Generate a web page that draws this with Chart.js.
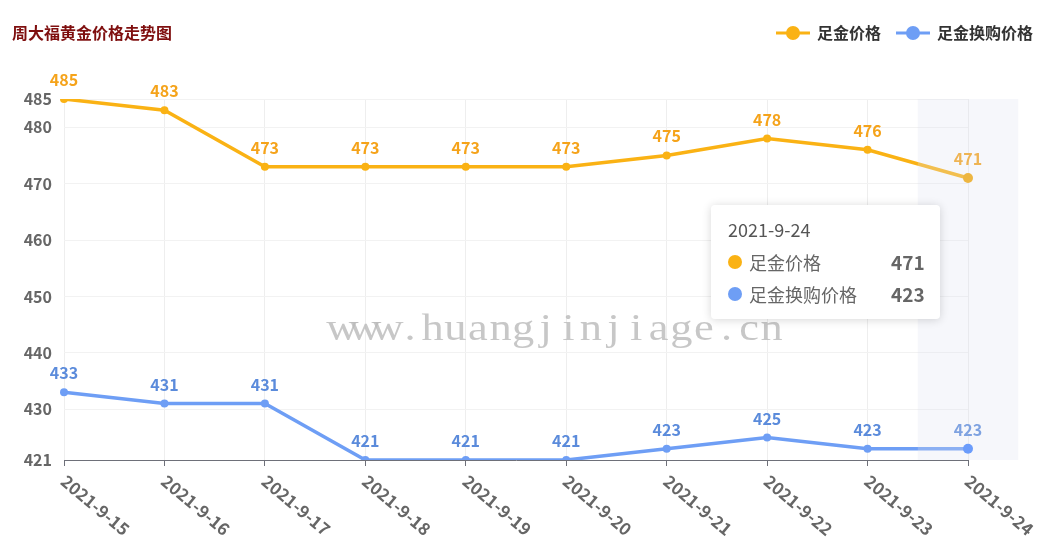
<!DOCTYPE html>
<html>
<head>
<meta charset="utf-8">
<script src="https://cdn.jsdelivr.net/npm/chart.js@4.4.0/dist/chart.umd.min.js"></script>
<style>
  html,body{margin:0;padding:0;background:#fff;}
  #wrap{position:relative;width:1049px;height:558px;overflow:hidden;}
  #tip{position:absolute;display:none;background:#fff;border-radius:4px;box-shadow:0 1px 10px rgba(0,0,0,.16);
       padding:11px 15px 9px 17px;font-family:"Noto Sans CJK SC","Noto Sans",sans-serif;color:#666;white-space:nowrap;}
  #tip .t{font-size:18px;line-height:26px;margin-bottom:4px;color:#555;}
  #tip .r{display:flex;align-items:center;font-size:18px;line-height:32px;}
  #tip .d{width:14px;height:14px;border-radius:50%;display:inline-block;margin-right:7px;}
  #tip .v{margin-left:auto;padding-left:34px;font-weight:bold;font-size:19px;}
</style>
</head>
<body>
<div id="wrap">
  <canvas id="c" width="1049" height="558"></canvas>
  <div id="tip"></div>
</div>
<script>
const FONT = '"Noto Sans CJK SC","Noto Sans",sans-serif';
const TITLE = '周大福黄金价格走势图';
const WATERMARK = 'www.huangjinjiage.cn';

const dates = ['2021-9-15','2021-9-16','2021-9-17','2021-9-18','2021-9-19','2021-9-20','2021-9-21','2021-9-22','2021-9-23','2021-9-24'];
const goldPrice = [485,483,473,473,473,473,475,478,476,471];
const exchangePrice = [433,431,431,421,421,421,423,425,423,423];
const yTicks = [421,430,440,450,460,470,480,485];
const seriesNames = ['足金价格','足金换购价格'];
const lineColors = ['#FAB214','#6E9EF5'];
const labelColors = ['#F5A31A','#5B8BDB'];
const activeIdx = 9;

const tip = document.getElementById('tip');

function externalTip(ctx){
  const {chart, tooltip} = ctx;
  if(tooltip.opacity === 0 || !tooltip.dataPoints || !tooltip.dataPoints.length){ tip.style.display='none'; return; }
  const i = tooltip.dataPoints[0].dataIndex;
  let h = `<div class="t">${dates[i]}</div>`;
  tooltip.dataPoints.forEach(p=>{
    h += `<div class="r"><span class="d" style="background:${lineColors[p.datasetIndex]}"></span>${seriesNames[p.datasetIndex]}<span class="v">${p.raw}</span></div>`;
  });
  tip.innerHTML = h;
  tip.style.display = 'block';
  tip.style.left = (tooltip.caretX - 28 - tip.offsetWidth) + 'px';
  tip.style.top = (chart.chartArea.top + 106) + 'px';
}

const decor = {
  id:'decor',
  beforeDatasetsDraw(chart){
    const c = chart.ctx;
    // watermark, serif glyphs stretched into mono cells
    c.save();
    c.fillStyle = 'rgba(185,185,185,0.8)';
    c.font = '37px "Liberation Serif","DejaVu Serif",serif';
    c.textAlign = 'center'; c.textBaseline = 'middle';
    const cell = 22.6, x0 = 557 - cell*WATERMARK.length/2;
    for(let k=0;k<WATERMARK.length;k++){
      c.save();
      c.translate(x0 + cell*(k+0.5), 330);
      c.scale(1.2, 1);
      c.fillText(WATERMARK[k], 0, 0);
      c.restore();
    }
    c.restore();
  },
  afterDatasetsDraw(chart){
    const c = chart.ctx, a = chart.chartArea;
    c.save();
    c.font = 'bold 16px ' + FONT;
    c.textAlign = 'center'; c.textBaseline = 'bottom';
    chart.data.datasets.forEach((ds,di)=>{
      c.fillStyle = labelColors[di];
      chart.getDatasetMeta(di).data.forEach((pt,i)=>{
        c.fillText(ds.data[i], pt.x, pt.y - 11);
      });
    });
    // hover shadow band
    const act = chart.tooltip.getActiveElements();
    if(act.length){
      const xs = chart.scales.x;
      const px = xs.getPixelForValue(act[0].index);
      const w = xs.getPixelForValue(1) - xs.getPixelForValue(0);
      c.fillStyle = 'rgba(222,226,242,0.27)';
      c.fillRect(px - w/2, a.top, w, a.bottom - a.top);
    }
    c.restore();
  },
  afterDraw(chart){
    const c = chart.ctx, a = chart.chartArea, xs = chart.scales.x;
    c.save();
    // x labels rotated clockwise, starting at the tick
    c.font = 'bold 17px ' + FONT;
    c.fillStyle = '#666';
    c.textAlign = 'left'; c.textBaseline = 'top';
    dates.forEach((d,i)=>{
      const x = xs.getPixelForValue(i);
      c.save();
      c.translate(x + 5, a.bottom + 12);
      c.rotate(40*Math.PI/180);
      c.fillText(d, 0, 0);
      c.restore();
    });
    // title
    c.font = 'bold 16px ' + FONT;
    c.fillStyle = '#7F0F0F';
    c.textAlign = 'left'; c.textBaseline = 'middle';
    c.fillText(TITLE, 12, 33);
    // legend, right aligned
    c.font = 'bold 16px ' + FONT;
    let right = 1033;
    for(let di=seriesNames.length-1; di>=0; di--){
      const tw = c.measureText(seriesNames[di]).width;
      const tx = right - tw;
      c.fillStyle = '#333';
      c.fillText(seriesNames[di], tx, 33);
      const ix = tx - 41;
      c.strokeStyle = lineColors[di]; c.lineWidth = 3;
      c.beginPath(); c.moveTo(ix, 33); c.lineTo(ix + 34, 33); c.stroke();
      c.fillStyle = lineColors[di];
      c.beginPath(); c.arc(ix + 17, 33, 7, 0, Math.PI*2); c.fill();
      right = ix - 15;
    }
    c.restore();
  }
};

const chart = new Chart(document.getElementById('c'), {
  type:'line',
  data:{
    labels: dates,
    datasets:[
      {label:seriesNames[0], data:goldPrice, borderColor:lineColors[0], backgroundColor:lineColors[0], borderWidth:3.5,
       pointRadius:4, pointHoverRadius:5, pointBorderWidth:0, pointHoverBorderWidth:0, tension:0},
      {label:seriesNames[1], data:exchangePrice, borderColor:lineColors[1], backgroundColor:lineColors[1], borderWidth:3.5,
       pointRadius:4, pointHoverRadius:5, pointBorderWidth:0, pointHoverBorderWidth:0, tension:0}
    ]
  },
  options:{
    responsive:false, animation:false,
    layout:{padding:{top:99, right:81, left:0, bottom:0}},
    interaction:{mode:'index', intersect:false},
    events:[],
    plugins:{
      legend:{display:false},
      title:{display:false},
      tooltip:{enabled:false, external:externalTip, mode:'index', intersect:false}
    },
    scales:{
      x:{
        type:'category', offset:false,
        grid:{color:'#EEEEEE', offset:false, drawTicks:true, tickLength:6, tickColor:'#6E7079'},
        border:{color:'#6E7079', width:1},
        ticks:{display:false},
        afterFit(s){ s.height = 98; }
      },
      y:{
        min:421, max:485,
        afterBuildTicks(s){ s.ticks = yTicks.map(v=>({value:v})); },
        grid:{color:'#F2F2F2', drawTicks:false},
        border:{display:false},
        ticks:{padding:12, color:'#666', font:{family:FONT, size:16, weight:'bold'}},
        afterFit(s){ s.width = 64; }
      }
    }
  },
  plugins:[decor]
});

const act = [{datasetIndex:0,index:activeIdx},{datasetIndex:1,index:activeIdx}];
chart.setActiveElements(act);
chart.tooltip.setActiveElements(act, {x:chart.scales.x.getPixelForValue(activeIdx), y:chart.chartArea.top + 150});
chart.update();
</script>
</body>
</html>
